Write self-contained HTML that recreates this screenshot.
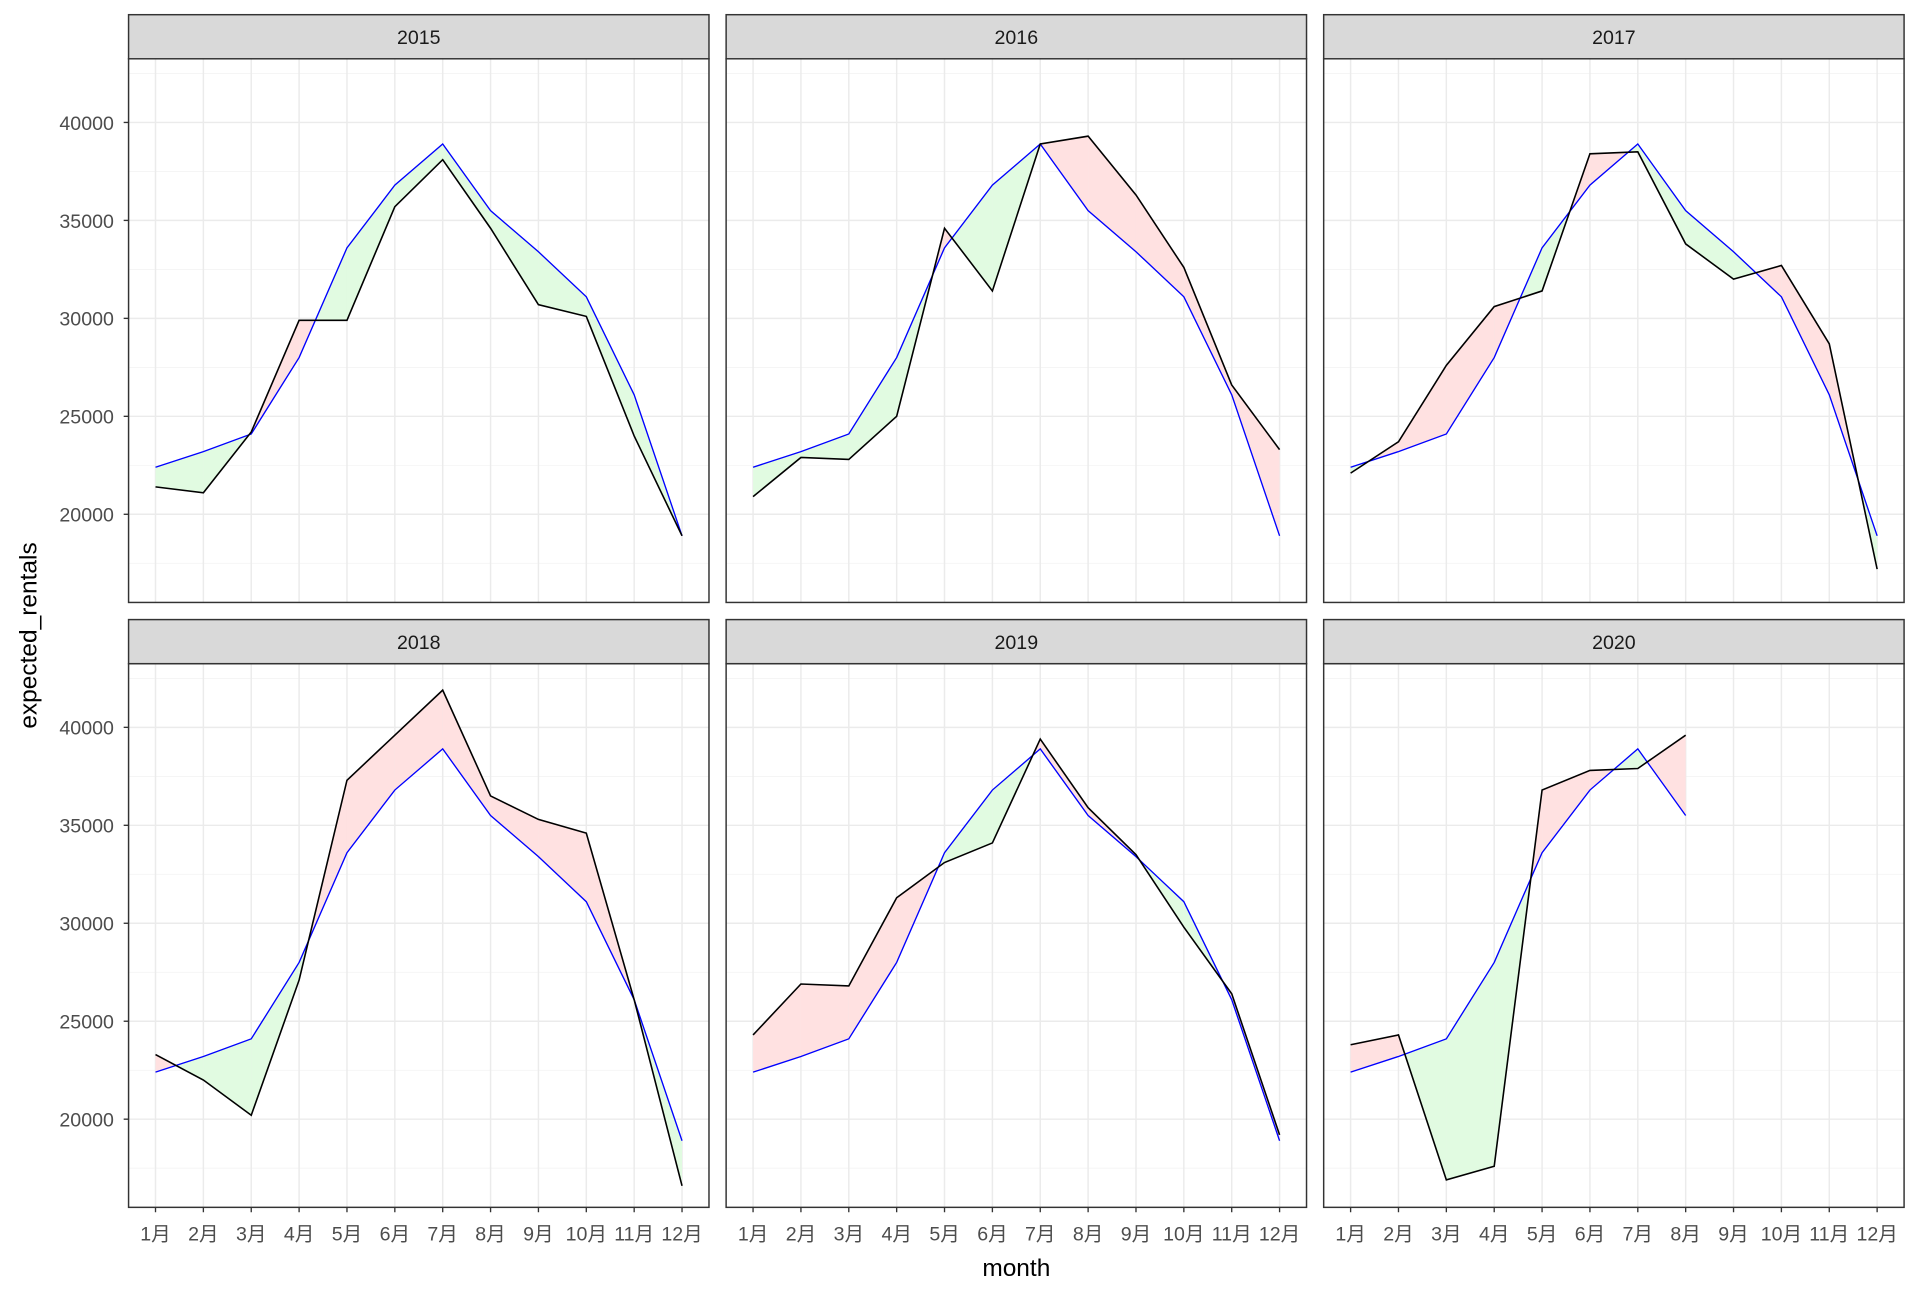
<!DOCTYPE html>
<html><head><meta charset="utf-8"><style>
html,body{margin:0;padding:0;background:#fff}
svg{display:block}
text{font-family:"Liberation Sans","Noto Sans CJK SC",sans-serif}
</style></head><body>
<svg id="s" width="1920" height="1296" viewBox="0 0 1568 1058.4" xmlns="http://www.w3.org/2000/svg">
<g id="geo"></g>
<g font-size="16" fill="#1a1a1a" text-anchor="middle">
<text x="342" y="36">2015</text><text x="830" y="36">2016</text><text x="1318" y="36">2017</text>
<text x="342" y="530">2018</text><text x="830" y="530">2019</text><text x="1318" y="530">2020</text>
</g>
<g font-size="16" fill="#4d4d4d" text-anchor="end">
<text x="93" y="106">40000</text><text x="93" y="186">35000</text><text x="93" y="266">30000</text><text x="93" y="346">25000</text><text x="93" y="426">20000</text>
<text x="93" y="600">40000</text><text x="93" y="680">35000</text><text x="93" y="760">30000</text><text x="93" y="840">25000</text><text x="93" y="920">20000</text>
</g>
<g id="xl" font-size="16" fill="#4d4d4d" text-anchor="middle">
<text x="127" y="1013">1月</text><text x="166.1" y="1013">2月</text><text x="205.2" y="1013">3月</text><text x="244.3" y="1013">4月</text><text x="283.4" y="1013">5月</text><text x="322.5" y="1013">6月</text><text x="361.5" y="1013">7月</text><text x="400.6" y="1013">8月</text><text x="439.7" y="1013">9月</text><text x="478.8" y="1013">10月</text><text x="517.9" y="1013">11月</text><text x="557" y="1013">12月</text>
<text x="615" y="1013">1月</text><text x="654.1" y="1013">2月</text><text x="693.2" y="1013">3月</text><text x="732.3" y="1013">4月</text><text x="771.4" y="1013">5月</text><text x="810.5" y="1013">6月</text><text x="849.5" y="1013">7月</text><text x="888.6" y="1013">8月</text><text x="927.7" y="1013">9月</text><text x="966.8" y="1013">10月</text><text x="1005.9" y="1013">11月</text><text x="1045" y="1013">12月</text>
<text x="1103" y="1013">1月</text><text x="1142.1" y="1013">2月</text><text x="1181.2" y="1013">3月</text><text x="1220.3" y="1013">4月</text><text x="1259.4" y="1013">5月</text><text x="1298.5" y="1013">6月</text><text x="1337.5" y="1013">7月</text><text x="1376.6" y="1013">8月</text><text x="1415.7" y="1013">9月</text><text x="1454.8" y="1013">10月</text><text x="1493.9" y="1013">11月</text><text x="1533" y="1013">12月</text>
</g>
<text x="830" y="1042" font-size="20" text-anchor="middle" fill="#000">month</text>
<text transform="translate(30,519) rotate(-90)" font-size="20" text-anchor="middle" fill="#000">expected_rentals</text>
</svg>
<script>
var E=[22400,23200,24100,28000,33600,36800,38900,35500,33400,31100,26100,18900];
var A=[[21400,21100,24200,29900,29900,35700,38100,34600,30700,30100,24000,18900],
[20900,22900,22800,25000,34600,31400,38900,39300,36300,32600,26600,23300],
[22100,23700,27600,30600,31400,38400,38500,33800,32000,32700,28700,17200],
[23300,22000,20200,27100,37300,39600,41900,36500,35300,34600,26100,16600],
[24300,26900,26800,31300,33100,34100,39400,35900,33500,29800,26400,19200],
[23800,24300,16900,17600,36800,37800,37900,39600]];
var g='';var st=39.09;
for(var p=0;p<6;p++){
 var c=p%3,r=Math.floor(p/3);
 var L=105+488*c,R=L+474,T=48+494*r,B=T+444,x0=127+488*c,oy=494*r;
 function Y(v){return 100+oy+(40000-v)*0.016;}
 g+='<rect x="'+L+'" y="'+T+'" width="474" height="444" fill="#fff"/>';
 for(var v=17500;v<=42500;v+=5000)g+='<line x1="'+L+'" x2="'+R+'" y1="'+Y(v)+'" y2="'+Y(v)+'" stroke="#f2f2f2" stroke-width="0.6"/>';
 for(var v=20000;v<=40000;v+=5000)g+='<line x1="'+L+'" x2="'+R+'" y1="'+Y(v)+'" y2="'+Y(v)+'" stroke="#ebebeb" stroke-width="1.2"/>';
 for(var m=0;m<12;m++){var x=x0+m*st;g+='<line x1="'+x+'" x2="'+x+'" y1="'+T+'" y2="'+B+'" stroke="#ebebeb" stroke-width="1.2"/>';}
 var a=A[p],n=a.length;
 for(var i=0;i<n-1;i++){
  var xa=x0+i*st,xb=xa+st,d1=a[i]-E[i],d2=a[i+1]-E[i+1];
  function poly(xs,ya,yb,ea,eb,col){g+='<polygon points="'+xs[0]+','+Y(ya)+' '+xs[1]+','+Y(yb)+' '+xs[1]+','+Y(eb)+' '+xs[0]+','+Y(ea)+'" fill="'+col+'"/>';}
  var col1=d1>=0?'#ffe1e1':'#e1fbe1';
  if(d1*d2>=0){poly([xa,xb],a[i],a[i+1],E[i],E[i+1],(d1+d2)>=0?'#ffe1e1':'#e1fbe1');}
  else{var t=d1/(d1-d2),xm=xa+t*st,vm=E[i]+t*(E[i+1]-E[i]);
   poly([xa,xm],a[i],vm,E[i],vm,col1);
   poly([xm,xb],vm,a[i+1],vm,E[i+1],d2>=0?'#ffe1e1':'#e1fbe1');}
 }
 var pb='',pa='';
 for(var i=0;i<n;i++){pb+=(x0+i*st)+','+Y(E[i])+' ';pa+=(x0+i*st)+','+Y(a[i])+' ';}
 g+='<polyline points="'+pb+'" fill="none" stroke="#0000ff" stroke-width="1.1"/>';
 g+='<polyline points="'+pa+'" fill="none" stroke="#000" stroke-width="1.3"/>';
 g+='<rect x="'+L+'" y="'+T+'" width="474" height="444" fill="none" stroke="#333" stroke-width="1.2"/>';
 g+='<rect x="'+L+'" y="'+(T-36)+'" width="474" height="36" fill="#d9d9d9" stroke="#333" stroke-width="1.2"/>';
 if(c==0){for(var v=20000;v<=40000;v+=5000)g+='<line x1="'+(L-4)+'" x2="'+L+'" y1="'+Y(v)+'" y2="'+Y(v)+'" stroke="#333" stroke-width="1.1"/>';}
 if(r==1){for(var m=0;m<12;m++){var x=x0+m*st;g+='<line x1="'+x+'" x2="'+x+'" y1="'+B+'" y2="'+(B+4)+'" stroke="#333" stroke-width="1.1"/>';}}
}
document.getElementById('geo').innerHTML=g;
</script>
</body></html>
